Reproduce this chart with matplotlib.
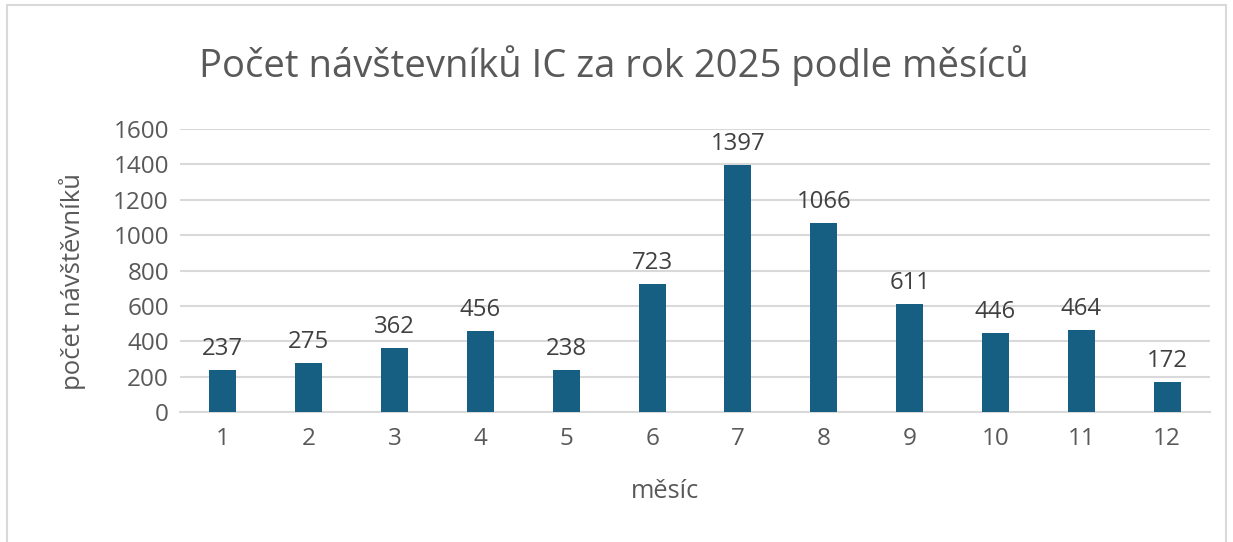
import matplotlib as mpl
mpl.use('Agg')
import matplotlib.pyplot as plt
from matplotlib.patches import Rectangle

months = ['1', '2', '3', '4', '5', '6', '7', '8', '9', '10', '11', '12']
visitors = [237, 275, 362, 456, 238, 723, 1397, 1066, 611, 446, 464, 172]
yticks = [0, 200, 400, 600, 800, 1000, 1200, 1400, 1600]

title = 'Počet návštevníků IC za rok 2025 podle měsíců'
xlabel = 'měsíc'
ylabel = 'počet návštěvníků'

bar_color = '#175f82'
text_color = '#595959'
label_color = '#404040'
grid_color = '#d9d9d9'

plt.rcParams['font.family'] = ['Open Sans', 'DejaVu Sans']

W, H = 1233, 542
fig = plt.figure(figsize=(W / 100, H / 100), dpi=100)

# chart border
fig.patches.append(Rectangle((7 / W, -0.01), (1226 - 7) / W, 1.01 - 5 / H,
                             transform=fig.transFigure, fill=False,
                             edgecolor=grid_color, linewidth=1.5))

# plot area in pixels: left 180, right 1210, top 129, bottom 412
ax = fig.add_axes([180 / W, 1 - 412 / H, (1210 - 180) / W, (412 - 129) / H])

x = range(len(months))
bars = ax.bar(x, visitors, width=0.315, color=bar_color, zorder=3)

for xi, v in zip(x, visitors):
    ax.annotate(str(v), (xi, v), xytext=(0, 6.5), textcoords='offset points',
                ha='center', va='bottom', fontsize=17.3, color=label_color)

ax.set_xlim(-0.5, len(months) - 0.5)
ax.set_ylim(0, 1600)
ax.set_yticks(yticks)
ax.set_xticks(list(x))
ax.set_xticklabels(months)
ax.yaxis.grid(True, color=grid_color, linewidth=1.5, zorder=0)
ax.set_axisbelow(True)
for s in ['top', 'right', 'left']:
    ax.spines[s].set_visible(False)
ax.spines['bottom'].set_color(grid_color)
ax.spines['bottom'].set_linewidth(1.5)
ax.tick_params(axis='both', length=0, labelsize=17.5, labelcolor=text_color)
ax.tick_params(axis='y', pad=8)
ax.tick_params(axis='x', pad=11)

fig.text(614 / W, 1 - 66 / H, title, ha='center', va='center',
         fontsize=27.5, color=text_color)
fig.text(665 / W, 1 - 492 / H, xlabel, ha='center', va='center',
         fontsize=18.3, color=text_color)
fig.text(73 / W, 1 - 281 / H, ylabel, ha='center', va='center',
         rotation=90, fontsize=18.5, color=text_color)

fig.savefig('out.png', dpi=100)
